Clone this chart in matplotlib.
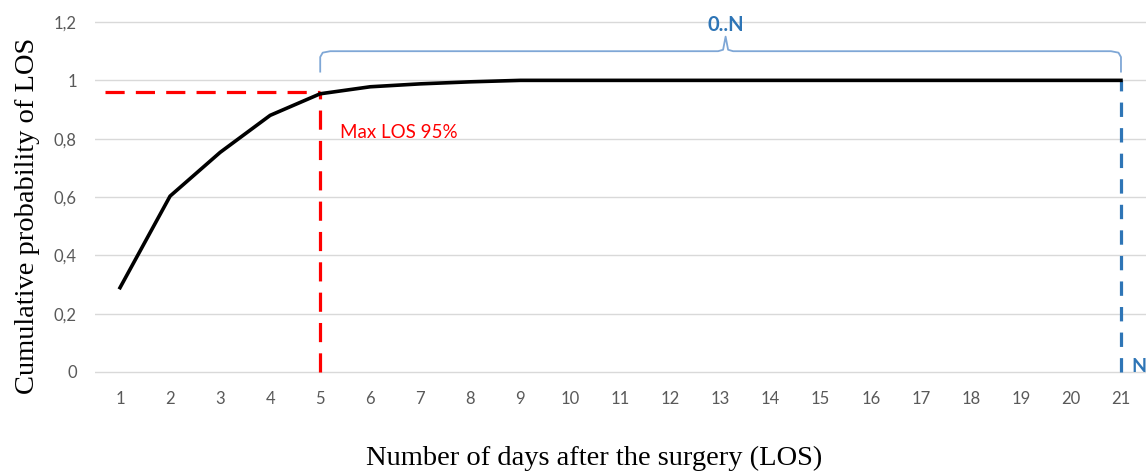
import matplotlib.pyplot as plt

days = list(range(1, 22))
cum_prob = [0.289, 0.603, 0.753, 0.880, 0.954, 0.978, 0.988, 0.995, 1.0, 1.0,
            1.0, 1.0, 1.0, 1.0, 1.0, 1.0, 1.0, 1.0, 1.0, 1.0, 1.0]
yticks = [0, 0.2, 0.4, 0.6, 0.8, 1.0, 1.2]
ytick_labels = ['0', '0,2', '0,4', '0,6', '0,8', '1', '1,2']

max_los_day = 5
max_los_level = 0.959
n_day = 21

fig = plt.figure(figsize=(11.46, 4.74), dpi=100)
ax = fig.add_axes([95 / 1146, 1 - 374 / 474, 1 - 95 / 1146, (374 - 20) / 474])

ax.set_xlim(0.5, 21.5)
ax.set_ylim(-0.007, 1.207)
ax.set_yticks(yticks)
ax.set_yticklabels(ytick_labels)
ax.set_xticks(days)
ax.set_xticklabels([str(d) for d in days])
ax.grid(axis='y', color='#d9d9d9', linewidth=1)
ax.set_axisbelow(True)
for s in ax.spines.values():
    s.set_visible(False)
ax.tick_params(length=0, colors='#595959', labelsize=12)
ax.tick_params(axis='x', pad=12)
ax.tick_params(axis='y', pad=13)
for lab in ax.get_xticklabels() + ax.get_yticklabels():
    lab.set_family('Lato')

# 95% markers
ax.plot([0.7, max_los_day], [max_los_level, max_los_level], color='#ff0000',
        linewidth=2.3, dashes=(6, 3.5), solid_capstyle='butt')
ax.plot([max_los_day, max_los_day], [0, max_los_level], color='#ff0000',
        linewidth=2.3, dashes=(6, 3.5))
ax.plot([n_day, n_day], [0, 1.0], color='#2e75b6', linewidth=2.3, dashes=(4.5, 3.5))

ax.plot(days, cum_prob, color='black', linewidth=2.6, solid_joinstyle='round')

ax.text(5.4, 0.82, 'Max LOS 95%', color='#ff0000', fontsize=13.5, family='Lato',
        va='center')
ax.text(21.2, 0.02, 'N', color='#2e75b6', fontsize=14, family='Lato',
        fontweight='bold', va='center', clip_on=False)

# brace over 5..21
bc = '#7fa7d6'
mid = 13.1
bx = [5.0, 5.0, 5.05, 5.2, mid - 0.15, mid - 0.05, mid, mid + 0.05, mid + 0.15,
      20.8, 20.95, 21.0, 21.0]
by = [1.03, 1.08, 1.095, 1.10, 1.10, 1.105, 1.15, 1.105, 1.10, 1.10, 1.095, 1.08, 1.03]
ax.plot(bx, by, color=bc, linewidth=1.3, clip_on=False)
ax.text(mid, 1.19, '0..N', color='#2e75b6', fontsize=14.5, family='Lato',
        fontweight='bold', ha='center', va='center', clip_on=False)

fig.text(594 / 1146, 1 - 458 / 474, 'Number of days after the surgery (LOS)',
         family='Liberation Serif', fontsize=20.5, ha='center', va='center')
fig.text(28 / 1146, 1 - 216 / 474, 'Cumulative probability of LOS',
         family='Liberation Serif', fontsize=20.5, ha='center', va='center',
         rotation=90)

fig.savefig('out.png', dpi=100)
